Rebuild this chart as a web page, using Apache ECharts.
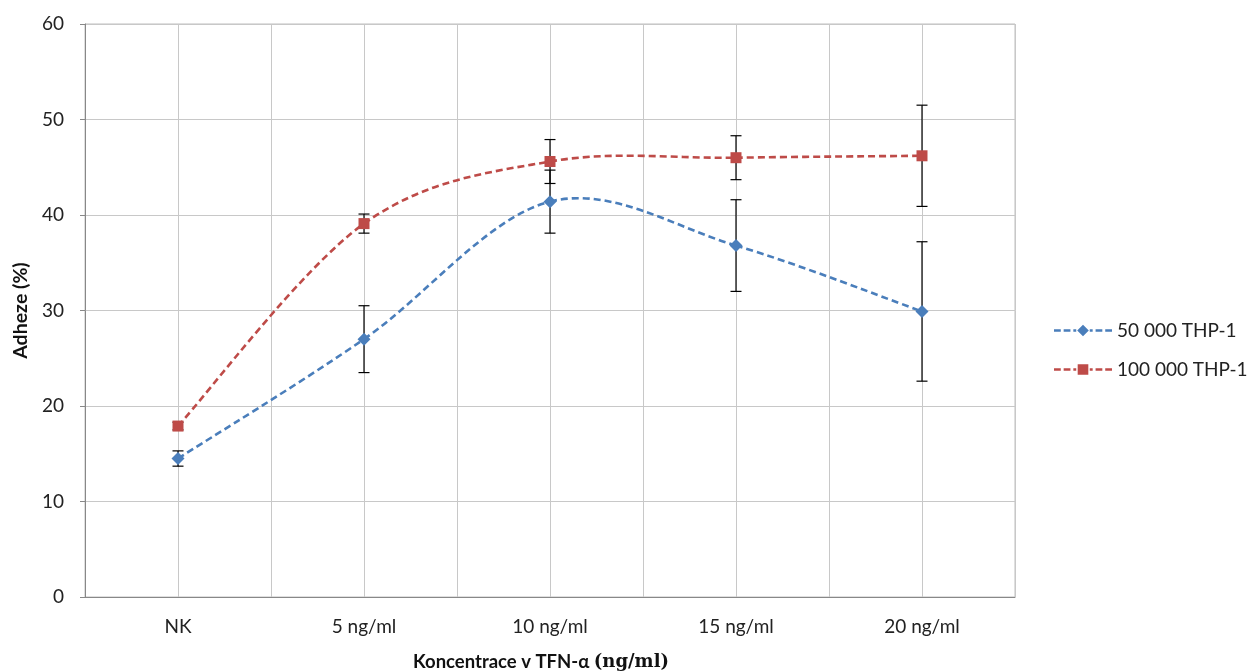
<!DOCTYPE html>
<html><head><meta charset="utf-8">
<script src="https://cdn.jsdelivr.net/npm/echarts@6/dist/echarts.min.js"></script>
<style>html,body{margin:0;padding:0;background:#fff}#c{width:1248px;height:671px}</style>
</head><body><div id="c"></div>
<script>
const categories = ['NK', '5 ng/ml', '10 ng/ml', '15 ng/ml', '20 ng/ml'];
const seriesNames = ['50 000 THP-1', '100 000 THP-1'];
const values50k = [14.5, 27.0, 41.4, 36.8, 29.9];
const errors50k = [0.8, 3.5, 3.3, 4.8, 7.3];
const values100k = [17.9, 39.1, 45.6, 46.0, 46.2];
const errors100k = [0.4, 1.0, 2.3, 2.3, 5.3];
const yTicks = [0, 10, 20, 30, 40, 50, 60];

const BLUE = '#4a7ebb', RED = '#be4b48';
const FONT = 'Lato, "Open Sans", sans-serif';
const xPos = i => 2 * i + 1;
function pts(vals){ return vals.map((v,i)=>[xPos(i), v]); }
function errs(vals, e){ return vals.map((v,i)=>[xPos(i), v - e[i], v + e[i]]); }

function errRender(params, api){
  const x = api.value(0);
  const lo = api.coord([x, api.value(1)]);
  const hi = api.coord([x, api.value(2)]);
  const w = 5.5;
  const st = {stroke:'#000', lineWidth:1.2};
  return {type:'group', children:[
    {type:'line', shape:{x1:lo[0], y1:lo[1], x2:hi[0], y2:hi[1]}, style:st},
    {type:'line', shape:{x1:lo[0]-w, y1:lo[1], x2:lo[0]+w, y2:lo[1]}, style:st},
    {type:'line', shape:{x1:hi[0]-w, y1:hi[1], x2:hi[0]+w, y2:hi[1]}, style:st}
  ]};
}

// Excel-like smoothed curve (Catmull-Rom Bezier) through the data points
function curveRender(vals, color){
  return function(params, api){
    const i = params.dataIndex;
    const n = vals.length;
    if (i >= n - 1) return null;
    const P = k => { const kk = Math.max(0, Math.min(n-1, k)); return api.coord([xPos(kk), vals[kk]]); };
    const p0 = P(i-1), p1 = P(i), p2 = P(i+1), p3 = P(i+2);
    return {type:'bezierCurve', shape:{
      x1:p1[0], y1:p1[1], x2:p2[0], y2:p2[1],
      cpx1:p1[0] + (p2[0]-p0[0])/6, cpy1:p1[1] + (p2[1]-p0[1])/6,
      cpx2:p2[0] - (p3[0]-p1[0])/6, cpy2:p2[1] - (p3[1]-p1[1])/6
    }, style:{stroke:color, lineWidth:2.6, fill:null, lineDash:[7,4]}};
  };
}

const iconDiamond = 'path://M0,4.8h7v2.6h-7z M10,4.8h7v2.6h-7z M20,4.8h3v2.6h-3z M30,0L36,6L30,12L24,6Z M37,4.8h3v2.6h-3z M43,4.8h7v2.6h-7z M53,4.8h7v2.6h-7z';
const iconSquare = 'path://M0,4.8h7v2.6h-7z M10,4.8h7v2.6h-7z M20,4.8h3v2.6h-3z M24.5,0.5h11v11h-11z M37,4.8h3v2.6h-3z M43,4.8h7v2.6h-7z M53,4.8h7v2.6h-7z';

const chart = echarts.init(document.getElementById('c'));
chart.setOption({
  animation:false,
  textStyle:{fontFamily:FONT},
  grid:{left:85, right:233, top:24, bottom:74, outerBoundsMode:'none', containLabel:false,
    show:true, borderColor:'#bfbfbf', borderWidth:1},
  legend:{
    orient:'vertical', left:1049, top:316, itemGap:20, itemWidth:58, itemHeight:12,
    textStyle:{fontSize:19, color:'#222', fontFamily:FONT, padding:[0,0,0,0]},
    data:[{name:seriesNames[0], icon:iconDiamond}, {name:seriesNames[1], icon:iconSquare}]
  },
  xAxis:{
    type:'value', min:0, max:10, interval:1,
    axisLine:{show:true, lineStyle:{color:'#888'}},
    axisTick:{show:false},
    splitLine:{show:true, lineStyle:{color:'#c8c8c8'}},
    axisLabel:{fontSize:19, color:'#222', margin:20,
      formatter:v => (v % 2 === 1) ? categories[(v-1)/2] : ''},
    name:'{a|Koncentrace v TFN-α }{b|(ng/ml)}', nameLocation:'middle', nameGap:56,
    nameTextStyle:{padding:[0,18,0,0], rich:{
      a:{fontSize:18.5, fontWeight:'bold', color:'#111', fontFamily:FONT},
      b:{fontSize:18, fontWeight:'bold', color:'#111', fontFamily:'"DejaVu Serif", "Liberation Serif", serif'}
    }}
  },
  yAxis:{
    type:'value', min:yTicks[0], max:yTicks[yTicks.length-1], interval:10,
    axisLine:{show:true, lineStyle:{color:'#888'}},
    axisTick:{show:true, length:5, lineStyle:{color:'#888'}},
    splitLine:{show:true, lineStyle:{color:'#c8c8c8'}},
    axisLabel:{fontSize:19, color:'#222', margin:21},
    name:'Adheze (%)', nameLocation:'middle', nameGap:52, nameRotate:90,
    nameTextStyle:{fontSize:19.5, fontWeight:'bold', color:'#111', fontFamily:FONT}
  },
  series:[
    {type:'custom', renderItem:errRender, data:errs(values50k, errors50k), z:3, silent:true, encode:{x:0, y:[1,2]}},
    {type:'custom', renderItem:errRender, data:errs(values100k, errors100k), z:3, silent:true, encode:{x:0, y:[1,2]}},
    {type:'custom', renderItem:curveRender(values50k, BLUE), data:pts(values50k), z:4, silent:true, encode:{x:0, y:1}},
    {type:'custom', renderItem:curveRender(values100k, RED), data:pts(values100k), z:4, silent:true, encode:{x:0, y:1}},
    {name:seriesNames[0], type:'line', data:pts(values50k), z:5,
      symbol:'diamond', symbolSize:13,
      itemStyle:{color:BLUE}, lineStyle:{opacity:0, width:0}},
    {name:seriesNames[1], type:'line', data:pts(values100k), z:5,
      symbol:'rect', symbolSize:11,
      itemStyle:{color:RED}, lineStyle:{opacity:0, width:0}}
  ]
});
</script></body></html>
